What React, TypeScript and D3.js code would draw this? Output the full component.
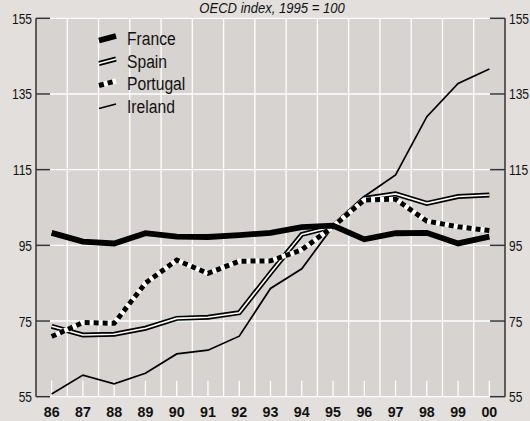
import React from "react";
import * as d3 from "d3";

const years = [86, 87, 88, 89, 90, 91, 92, 93, 94, 95, 96, 97, 98, 99, 100];
const yearLabels = ["86", "87", "88", "89", "90", "91", "92", "93", "94", "95", "96", "97", "98", "99", "00"];
const france = [98.3, 96.0, 95.5, 98.2, 97.3, 97.2, 97.7, 98.3, 99.8, 100.2, 96.6, 98.2, 98.3, 95.5, 97.3];
const spain = [73.6, 71.3, 71.5, 73.1, 75.7, 76.0, 77.2, 87.7, 97.9, 100, 107.4, 108.6, 106.1, 107.9, 108.3];
const portugal = [70.9, 74.6, 74.4, 85.0, 91.1, 87.6, 90.8, 90.9, 93.8, 100, 107.0, 107.2, 101.4, 99.9, 98.9];
const ireland = [55.7, 60.7, 58.4, 61.2, 66.3, 67.3, 71.0, 83.6, 88.8, 100, 107.9, 113.6, 129.0, 137.8, 141.6];
const yTicks = [55, 75, 95, 115, 135, 155];
const legendNames = ["France", "Spain", "Portugal", "Ireland"];
const title = "OECD index, 1995 = 100";

const W = 530, H = 421;
const x0 = 36, x1 = 505, yTop = 18.3, yBot = 396.7;
const FONT = "'Liberation Sans', Arial, sans-serif";

function NText(props: { x: number; y: number; sx: number; size: number; anchor?: string; weight?: string; italic?: boolean; children: React.ReactNode }) {
  const { x, y, sx, size, anchor, weight, italic, children } = props;
  return (
    <text
      transform={`translate(${x},${y}) scale(${sx},1)`}
      textAnchor={anchor || "start"}
      fontFamily={FONT}
      fontSize={size}
      fontWeight={weight || "normal"}
      fontStyle={italic ? "italic" : "normal"}
      fill="#111"
    >
      {children}
    </text>
  );
}

export default function App() {
  const x = d3.scaleLinear().domain([85.5, 100.5]).range([x0, x1]);
  const y = d3.scaleLinear().domain([55, 155]).range([yBot, yTop]);
  const line = d3.line<number>().x((_, i) => x(years[i])).y((d) => y(d)).curve(d3.curveLinear);
  const halfYears = years.slice(0, -1).map((yr) => yr + 0.5);
  const legY = [38, 61, 83, 106];

  return (
    <svg width={W} height={H} style={{ position: "absolute", left: 0, top: 0, background: "#e2dfdc" }}>
      <rect x={0} y={0} width={W} height={H} fill="#e2dfdc" />
      <rect x={x0} y={yTop} width={x1 - x0} height={yBot - yTop} fill="#d7d3d0" />
      {halfYears.map((h) => (
        <line key={"v" + h} x1={x(h)} x2={x(h)} y1={yTop} y2={yBot} stroke="#fff" strokeWidth={1.3} />
      ))}
      {years.map((yr) => (
        <line key={"s" + yr} x1={x(yr)} x2={x(yr)} y1={yBot - 16} y2={yBot} stroke="#fff" strokeWidth={1.3} />
      ))}
      {yTicks.map((t) => (
        <line key={"h" + t} x1={x0} x2={x1} y1={y(t)} y2={y(t)} stroke="#fff" strokeWidth={1.3} />
      ))}
      <line x1={x0} x2={x0} y1={yTop} y2={yBot} stroke="#333" strokeWidth={1.5} />
      <line x1={x1} x2={x1} y1={yTop} y2={yBot} stroke="#333" strokeWidth={1.5} />
      {yTicks.map((t) => (
        <g key={"t" + t}>
          <line x1={x0} x2={x0 + 14} y1={y(t)} y2={y(t)} stroke="#333" strokeWidth={1.5} />
          <line x1={x1 - 15} x2={x1} y1={y(t)} y2={y(t)} stroke="#333" strokeWidth={1.5} />
          <NText x={32} y={y(t) + 5.5} sx={0.8} size={15} anchor="end">{t}</NText>
          <NText x={509} y={y(t) + 5.5} sx={0.8} size={15}>{t}</NText>
        </g>
      ))}
      {years.map((yr, i) => (
        <NText key={"xl" + yr} x={x(yr)} y={417} sx={0.95} size={15} anchor="middle" weight="bold">{yearLabels[i]}</NText>
      ))}
      <NText x={272} y={13} sx={0.9} size={14.5} anchor="middle" italic>{title}</NText>
      <path d={line(spain) || ""} fill="none" stroke="#000" strokeWidth={5} strokeLinejoin="miter" />
      <path d={line(spain) || ""} fill="none" stroke="#fff" strokeWidth={1.6} strokeLinejoin="miter" />
      <path d={line(ireland) || ""} fill="none" stroke="#000" strokeWidth={1.7} />
      <path d={line(portugal) || ""} fill="none" stroke="#fff" strokeWidth={5} />
      <path d={line(portugal) || ""} fill="none" stroke="#000" strokeWidth={5} strokeDasharray="5,4" />
      <path d={line(france) || ""} fill="none" stroke="#000" strokeWidth={5.8} />
      {legendNames.map((n, i) => {
        const ly = legY[i];
        const p = `M99,${ly + 2.5}L116,${ly - 2}`;
        return (
          <g key={n}>
            {i === 0 && <path d={p} stroke="#000" strokeWidth={5.8} fill="none" />}
            {i === 1 && (
              <>
                <path d={p} stroke="#000" strokeWidth={5} fill="none" />
                <path d={p} stroke="#fff" strokeWidth={1.6} fill="none" />
              </>
            )}
            {i === 2 && (
              <>
                <path d={p} stroke="#fff" strokeWidth={5} fill="none" />
                <path d={p} stroke="#000" strokeWidth={5} strokeDasharray="5,4" fill="none" />
              </>
            )}
            {i === 3 && <path d={p} stroke="#000" strokeWidth={1.7} fill="none" />}
            <NText x={127} y={ly + 6.5} sx={0.87} size={18}>{n}</NText>
          </g>
        );
      })}
    </svg>
  );
}
